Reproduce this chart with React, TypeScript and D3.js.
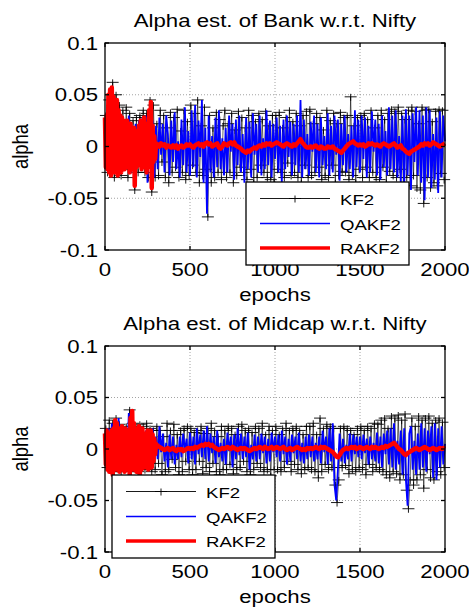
import React from "react";
import * as d3 from "d3";

// ---------- data (values in thousandths of alpha) ----------
const titles = ["Alpha est. of Bank w.r.t. Nifty", "Alpha est. of Midcap w.r.t. Nifty"];
const seriesNames = ["KF2", "QAKF2", "RAKF2"];
const xTicks = [0, 500, 1000, 1500, 2000];
const xTickLabels = ["0", "500", "1000", "1500", "2000"];
const yTicks = [-0.1, -0.05, 0, 0.05, 0.1];
const yTickLabels = ["-0.1", "-0.05", "0", "0.05", "0.1"];

// sampling of each series (epochs)
const blueStart = 0, blueStep = 10; // 0..2000
const blackStart = 5, blackStep = 10; // 5..1995
const redEarlyStep = 5; // 0..300
const redLateStart = 310, redLateStep = 10; // 310..2000

const bankQAKF2 = [
  25,-15,40,-20,45,-25,35,-10,30,-20,28,-22,25,-15,30,-25,20,-30,22,-18,25,-20,28,-15,30,-35,35,-20,25,-30,
  20,-22,28,-8,22,-25,30,12,-28,25,-15,33,-22,5,-30,26,-18,38,-25,15,-28,35,-20,40,-30,25,-10,45,-35,18,
  -65,30,-25,10,-30,28,-20,35,-22,8,-28,18,-25,30,-5,22,-32,26,-18,30,-25,12,-35,28,-22,24,-30,32,-8,22,
  -25,30,-28,8,-22,35,-18,25,-30,22,-12,28,-25,20,-35,26,-22,30,-10,24,-28,22,-18,30,-25,45,-30,26,-22,12,
  -28,24,-5,30,-25,22,-30,28,-18,10,-22,32,-28,20,-25,30,-8,26,-33,22,-18,30,-25,12,-22,20,-30,35,-20,26,
  -25,30,-12,28,-30,20,-25,34,-5,26,-28,22,-32,30,-20,15,-28,38,-22,30,-25,35,-30,10,-35,30,-40,36,-28,30,
  -42,32,-15,38,-28,35,-35,30,-52,38,-30,35,-40,12,-32,28,-45,34,-30,30,5,
];
const bankKF2 = [
  30,-25,45,-18,62,-30,50,-22,40,-28,35,-15,38,-30,32,-22,25,-42,28,-25,30,-18,35,-25,32,-30,45,-44,40,-30,
  22,-28,35,-15,30,-30,18,-35,33,-25,28,-20,36,-30,15,-25,35,-32,24,-28,
  40,-18,32,-25,45,-35,20,-28,38,-22,-68,30,-35,18,-30,33,-25,26,-32,20,
  35,-30,22,-25,32,-35,16,-28,34,-20,28,-25,18,-32,35,-22,30,-35,24,-30,
  32,-18,26,-25,34,-30,20,-32,30,-35,
  30,-22,33,-25,18,-30,28,-16,35,-28,24,-25,32,-30,20,-35,30,-18,34,-30,
  36,-28,22,-25,32,-20,28,-32,16,-28,35,-30,25,-18,32,-35,22,-28,33,-24,
  28,-25,30,-32,48,-28,20,-35,28,-22,30,-30,32,-20,26,-30,35,-25,18,-30,
  30,-32,35,-20,26,-35,32,-24,36,-28,34,-30,38,-22,32,-40,26,-30,35,-38,
  38,-28,34,-40,22,-42,38,-55,35,-30,36,-40,24,-35,34,-38,36,-26,35,-32,
];
const bankRAKF2Early = [
  28,-20,30,-22,50,-25,55,-28,57,-20,48,-25,40,-15,45,-28,35,-20,30,-25,
  28,-18,25,-22,22,-20,25,-15,20,-25,22,-18,15,-22,18,-38,12,-20,15,-18,
  20,-15,25,-22,18,-20,28,-15,22,-25,15,-18,35,-20,43,-40,20,-15,10,-12,3,
];
const bankRAKF2Late = [
  2,0,3,1,2,-1,1,0,-1,1, -1,1,-2,0,1,-1,0,2,1,2, 0,-1,1,2,3,1,2,0,3,4,
  2,3,0,1,2,3,-1,-2,0,3, 2,1,3,4,2,4,1,0,-1,-2, -4,-5,-6,-4,-5,-3,-2,-1,-2,0,
  1,0,2,1,3,2,3,1,2,3, 4,3,2,1,0,2,3,2,1,0, 2,1,3,5,7,4,2,0,-1,-1,
  0,-1,0,1,-1,-2,0,-1,-2,-2, 0,-1,-1,0,-2,-3,-4,-5,-6,-4, -2,0,2,3,4,5,3,2,1,2,
  1,2,0,1,3,2,3,2,1,2, 1,0,2,3,2,1,0,1,2,3, 1,-1,0,1,-2,-3,-5,-6,-7,-5,
  -4,-3,-2,-1,0,2,1,3,2,3, 1,2,4,3,2,1,0,1,2,3,
];

const midQAKF2 = [
  15,-12,20,-15,25,-18,15,-10,30,-15,20,-12,18,-20,35,-15,22,-10,18,-20,15,-12,20,-15,18,-10,15,-12,20,-8,
  12,-10,22,-3,15,-12,6,-18,14,-10,12,-15,4,-10,12,-8,15,-2,10,-14,16,-10,12,-15,20,-5,14,-8,18,-10,
  22,-12,15,-4,12,-14,18,-8,6,-12,10,-15,16,-2,12,-18,14,-10,20,-6,15,-10,12,-8,16,-20,4,-10,14,-12,
  12,-10,15,-4,12,-14,10,-12,16,-3,12,-8,14,-12,18,-5,12,-15,10,-12,14,-4,12,-10,16,-12,6,-14,12,-10,
  14,-8,12,-12,6,-10,12,-14,18,-3,12,-15,20,-12,25,-35,-50,-20,15,-12,10,-14,4,-10,15,-12,14,-5,12,-8,
  12,-10,14,-4,10,-15,12,-10,6,-12,16,-14,12,-18,15,-5,18,-15,20,-18,25,-20,8,-15,18,-25,20,-30,-55,15,
  22,-20,8,-25,15,-20,25,-18,20,-22,18,-5,22,-28,25,-30,20,-18,22,-15,5,
];
const midKF2 = [
  20,-18,28,-12,25,-22,30,-18,24,-22,20,-18,22,-15,38,-22,25,-18,20,-22,24,-16,22,-20,25,-14,20,-22,18,-20,
  22,-14,18,-25,12,-22,25,-20,18,-10,24,-18,14,-25,18,-22,20,-12,22,-20,
  20,-25,16,-20,18,-12,22,-24,15,-18,20,-22,25,-14,18,-22,12,-25,22,-20,
  18,-20,22,-15,20,-24,14,-20,22,-18,24,-12,18,-22,20,-25,16,-20,22,-14,
  20,-18,25,-22,14,-20,22,-26,18,-20,
  22,-20,14,-22,20,-18,25,-12,18,-22,20,-15,22,-20,18,-24,14,-20,22,-18,
  22,-20,25,-22,14,-28,30,-22,20,-15,24,-20,22,-18,20,-35,-52,-30,20,-18,
  22,-16,20,-24,18,-20,14,-22,20,-18,22,-20,18,-25,22,-15,20,-22,25,-18,
  24,-20,28,-22,30,-25,20,-28,32,-22,30,-24,33,-30,28,-25,34,-40,-58,-30,
  30,-35,22,-30,32,-25,28,-38,30,-20,32,-28,25,-30,28,-22,30,-25,26,-18,
];
const midRAKF2Early = [
  15,-15,18,-20,15,-22,12,-18,18,-25,20,-15,28,-20,25,-18,15,-22,20,-12,
  22,-20,15,-22,20,-15,18,-20,12,-25,30,-15,37,-20,25,-18,20,-22,15,-18,
  22,-25,18,-20,20,-15,15,-18,12,-15,18,-20,15,-15,18,-18,14,-12,10,-5,5,
];
const midRAKF2Late = [
  3,2,1,0,-1,0,1,-1,0,1, -1,-2,0,-1,0,-2,-1,0,1,0, 1,0,2,1,2,3,4,3,5,4,
  5,3,4,2,1,0,-1,0,1,0, 1,2,1,0,2,1,0,-1,0,1, 0,1,0,-1,-2,-1,0,1,0,1,
  2,1,0,2,1,0,1,2,0,1, 2,1,0,1,2,0,-1,0,1,-1, 0,1,2,1,0,-1,0,-1,1,0,
  1,0,1,2,1,0,2,1,2,1, 0,-1,-2,-3,-5,-7,-8,-6,-3,-1, 0,1,0,1,2,1,2,0,1,2,
  1,0,1,2,1,0,2,1,2,1, 0,1,2,1,3,2,3,4,5,6, 4,2,0,-1,-3,-5,-6,-4,-3,-2,
  -1,0,1,0,-1,0,1,2,1,0, -1,0,1,0,-1,0,1,0,1,0,
];

const panels = [
  { title: titles[0], top: 43, bottom: 250, kf: bankKF2, qa: bankQAKF2, raE: bankRAKF2Early, raL: bankRAKF2Late, legX: 246, legY: 182 },
  { title: titles[1], top: 346, bottom: 552, kf: midKF2, qa: midQAKF2, raE: midRAKF2Early, raL: midRAKF2Late, legX: 112, legY: 475 },
];

const FONT = "'Liberation Sans', Arial, Helvetica, sans-serif";
const SX = 1.2;
const LEFT = 105;
const RIGHT = 445;

type P = [number, number];

function T({ x, y, size, anchor = "middle", rot = 0, children }: any) {
  return (
    <text
      transform={`translate(${x},${y}) scale(${SX},1)${rot ? ` rotate(${rot})` : ""}`}
      fontFamily={FONT}
      fontSize={size}
      textAnchor={anchor}
      fill="#000"
    >
      {children}
    </text>
  );
}

const MARK = "M-6,0H6M0,-3V4";

function Panel({ p }: any) {
  const x = d3.scaleLinear().domain([0, 2000]).range([LEFT, RIGHT]);
  const y = d3.scaleLinear().domain([-0.1, 0.1]).range([p.bottom, p.top]);
  const line = d3.line<P>().x((d) => x(d[0])).y((d) => y(d[1]));

  const kf: P[] = p.kf.map((v: number, i: number) => [blackStart + i * blackStep, v / 1000]);
  const qa: P[] = p.qa.map((v: number, i: number) => [blueStart + i * blueStep, v / 1000]);
  const ra: P[] = [
    ...p.raE.map((v: number, i: number) => [i * redEarlyStep, v / 1000] as P),
    ...p.raL.map((v: number, i: number) => [redLateStart + i * redLateStep, v / 1000] as P),
  ];

  const tl = 4;
  const rows = [16.5, 41.5, 66];
  return (
    <g>
      {xTicks.slice(1, -1).map((t) => (
        <line key={"gx" + t} x1={x(t)} x2={x(t)} y1={p.top} y2={p.bottom} stroke="#8c8c8c" strokeWidth={0.8} strokeDasharray="1,2" />
      ))}
      {yTicks.slice(1, -1).map((t) => (
        <line key={"gy" + t} x1={LEFT} x2={RIGHT} y1={y(t)} y2={y(t)} stroke="#8c8c8c" strokeWidth={0.8} strokeDasharray="1,2" />
      ))}
      <path d={line(kf) || ""} fill="none" stroke="#000" strokeWidth={0.6} />
      {kf.map((d, i) => (
        <path key={"m" + i} d={MARK} transform={`translate(${x(d[0])},${y(d[1])})`} stroke="#000" strokeWidth={0.9} fill="none" />
      ))}
      <path d={line(qa) || ""} fill="none" stroke="#0000ff" strokeWidth={1.8} />
      <path d={line(ra) || ""} fill="none" stroke="#ff0000" strokeWidth={4.5} strokeLinejoin="round" />
      <rect x={LEFT} y={p.top} width={RIGHT - LEFT} height={p.bottom - p.top} fill="none" stroke="#000" strokeWidth={1.3} />
      {xTicks.map((t) => (
        <g key={"tx" + t}>
          <line x1={x(t)} x2={x(t)} y1={p.bottom} y2={p.bottom - tl} stroke="#000" strokeWidth={1.3} />
          <line x1={x(t)} x2={x(t)} y1={p.top} y2={p.top + tl} stroke="#000" strokeWidth={1.3} />
        </g>
      ))}
      {yTicks.map((t) => (
        <g key={"ty" + t}>
          <line x1={LEFT} x2={LEFT + tl} y1={y(t)} y2={y(t)} stroke="#000" strokeWidth={1.3} />
          <line x1={RIGHT} x2={RIGHT - tl} y1={y(t)} y2={y(t)} stroke="#000" strokeWidth={1.3} />
        </g>
      ))}
      {xTicks.map((t, i) => (
        <T key={"lx" + t} x={x(t)} y={p.bottom + 26} size={18.5}>
          {xTickLabels[i]}
        </T>
      ))}
      {yTicks.map((t, i) => (
        <T key={"ly" + t} x={98} y={y(t) + 6.5} size={18.5} anchor="end">
          {yTickLabels[i]}
        </T>
      ))}
      <T x={275} y={p.top - 16} size={18.5}>
        {p.title}
      </T>
      <T x={275} y={p.bottom + 51} size={18.5}>
        epochs
      </T>
      <T x={28} y={(p.top + p.bottom) / 2} size={18.5} rot={-90}>
        alpha
      </T>
      <g transform={`translate(${p.legX},${p.legY})`}>
        <rect x={0} y={0} width={163} height={83} fill="#fff" stroke="#000" strokeWidth={1.3} />
        <line x1={14} x2={84} y1={rows[0]} y2={rows[0]} stroke="#000" strokeWidth={0.9} />
        <path d={MARK} transform={`translate(49,${rows[0]})`} stroke="#000" strokeWidth={0.9} fill="none" />
        <line x1={14} x2={84} y1={rows[1]} y2={rows[1]} stroke="#0000ff" strokeWidth={1.3} />
        <line x1={14} x2={84} y1={rows[2]} y2={rows[2]} stroke="#ff0000" strokeWidth={3.5} />
        {seriesNames.map((n, i) => (
          <T key={n} x={94} y={rows[i] + 6} size={15.5} anchor="start">
            {n}
          </T>
        ))}
      </g>
    </g>
  );
}

export default function App() {
  return (
    <svg width={469} height={613} style={{ position: "absolute", left: 0, top: 0, background: "#fff" }}>
      <rect width={469} height={613} fill="#fff" />
      {panels.map((p, i) => (
        <Panel key={i} p={p} />
      ))}
    </svg>
  );
}
